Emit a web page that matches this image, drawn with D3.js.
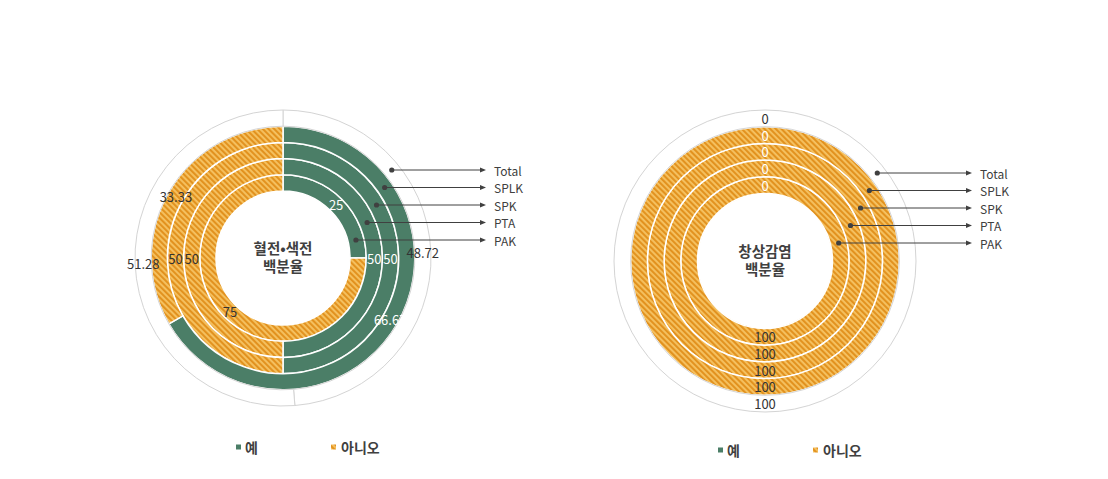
<!DOCTYPE html>
<html>
<head>
<meta charset="utf-8">
<script src="https://cdn.jsdelivr.net/npm/d3@7"></script>
<style>
  html, body { margin: 0; padding: 0; background: #fff; }
  svg { display: block; }
  text { font-family: "Noto Sans CJK KR", "Noto Sans", sans-serif; }
</style>
</head>
<body>
<svg id="chart" width="1108" height="479"></svg>
<script>
// ---- data ----
const ringNames = ["PAK", "PTA", "SPK", "SPLK", "Total"];   // inner -> outer
const seriesNames = ["예", "아니오"];
const leftTitle = ["혈전•색전", "백분율"];
const leftYes = [25, 50, 50, 66.67, 48.72];
const leftNo  = [75, 50, 50, 33.33, 51.28];
const rightTitle = ["창상감염", "백분율"];
const rightYes = [0, 0, 0, 0, 0];
const rightNo  = [100, 100, 100, 100, 100];

// ---- styling ----
const GREEN = "#4B7E67";
const DARK = "#404040";
const GRAY = "#d4d4d4";

const svg = d3.select("#chart");
const defs = svg.append("defs");
const pat = defs.append("pattern")
  .attr("id", "hatch")
  .attr("patternUnits", "userSpaceOnUse")
  .attr("width", 4).attr("height", 4)
  .attr("patternTransform", "rotate(-45)");
pat.append("rect").attr("width", 4).attr("height", 4).attr("fill", "#F5C262");
pat.append("rect").attr("width", 2.1).attr("height", 4).attr("fill", "#E2921F");

function drawChart(cfg) {
  const g = svg.append("g").attr("transform", `translate(${cfg.cx},${cfg.cy})`);
  const n = ringNames.length;
  const rScale = d3.scaleLinear().domain([0, n]).range([cfg.r0, cfg.rOuter]);
  const pie = d3.pie().sort(null).value(d => d.v);

  ringNames.forEach((name, i) => {
    const isTotal = name === "Total";
    const slices = pie([
      { v: cfg.yes[i], s: 0 },
      { v: cfg.no[i], s: 1 }
    ]);
    const arc = d3.arc().innerRadius(rScale(i)).outerRadius(rScale(i + 1));
    const rg = g.append("g");
    rg.selectAll("path").data(slices).join("path")
      .attr("d", arc)
      .attr("fill", d => isTotal ? "#fff" : (d.data.s === 0 ? GREEN : "url(#hatch)"))
      .attr("stroke", isTotal ? GRAY : "#fff")
      .attr("stroke-width", isTotal ? 1 : 1.5);
  });

  // labels
  ringNames.forEach((name, i) => {
    const isTotal = name === "Total";
    const slices = pie([
      { v: cfg.yes[i], s: 0 },
      { v: cfg.no[i], s: 1 }
    ]);
    const arc = d3.arc().innerRadius(rScale(i)).outerRadius(rScale(i + 1));
    g.append("g").selectAll("text").data(slices).join("text")
      .attr("transform", d => `translate(${arc.centroid(d)})`)
      .attr("text-anchor", "middle")
      .attr("dominant-baseline", "central")
      .attr("font-size", 13)
      .attr("fill", d => isTotal ? "#333" : (d.data.s === 0 ? "#fff" : "#333"))
      .text(d => String(d.data.v));
  });

  // title
  cfg.title.forEach((t, k) => {
    g.append("text")
      .attr("x", 0).attr("y", k === 0 ? -11 : 7)
      .attr("text-anchor", "middle")
      .attr("dominant-baseline", "central")
      .attr("font-size", 14.5).attr("font-weight", "bold")
      .attr("fill", DARK)
      .text(t);
  });

  // annotations
  const tipX = cfg.tip;
  ringNames.forEach((name, i) => {
    const y = -18 - 17.5 * i;
    const rm = (rScale(i) + rScale(i + 1)) / 2;
    const x = Math.sqrt(rm * rm - y * y);
    g.append("line")
      .attr("x1", x).attr("y1", y).attr("x2", tipX - 5).attr("y2", y)
      .attr("stroke", DARK).attr("stroke-width", 1);
    g.append("path")
      .attr("d", `M${tipX},${y} L${tipX - 6},${y - 2.5} L${tipX - 6},${y + 2.5} Z`)
      .attr("fill", DARK);
    g.append("circle").attr("cx", x).attr("cy", y).attr("r", 2.6).attr("fill", DARK);
    g.append("text")
      .attr("x", tipX + 8).attr("y", y)
      .attr("dominant-baseline", "central")
      .attr("font-size", 12).attr("fill", DARK)
      .text(name);
  });

  // legend
  const ly = 189;
  const lg = g.append("g");
  lg.append("rect").attr("x", -47).attr("y", ly - 2.5).attr("width", 5).attr("height", 5).attr("fill", GREEN);
  lg.append("text").attr("x", -38).attr("y", ly)
    .attr("dominant-baseline", "central").attr("font-size", 14).attr("font-weight", "bold")
    .attr("fill", DARK).text(seriesNames[0]);
  lg.append("rect").attr("x", 48).attr("y", ly - 2.5).attr("width", 5).attr("height", 5).attr("fill", "url(#hatch)");
  lg.append("text").attr("x", 58).attr("y", ly)
    .attr("dominant-baseline", "central").attr("font-size", 14).attr("font-weight", "bold")
    .attr("fill", DARK).text(seriesNames[1]);
}

drawChart({ cx: 283, cy: 258, r0: 67, rOuter: 148, yes: leftYes, no: leftNo, title: leftTitle, tip: 203 });
drawChart({ cx: 765, cy: 261, r0: 67.5, rOuter: 151, yes: rightYes, no: rightNo, title: rightTitle, tip: 207 });
</script>
</body>
</html>
